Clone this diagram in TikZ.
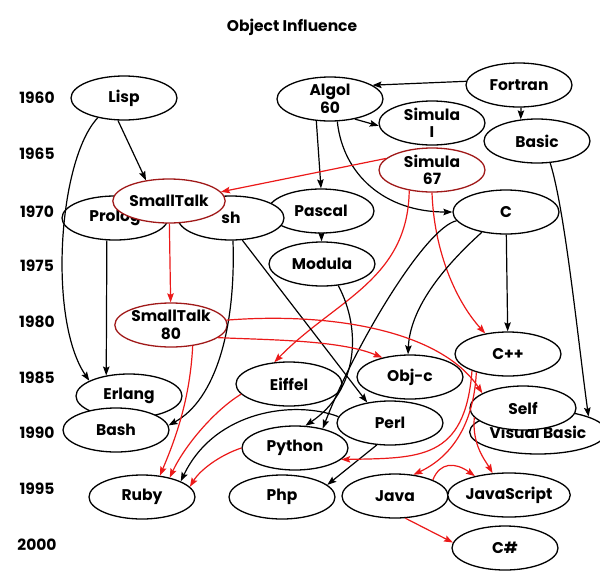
\documentclass[tikz,border=0pt]{standalone}
\usepackage{fontspec}
\setmainfont{Poppins}
\usetikzlibrary{shapes.geometric,arrows.meta}
\definecolor{edgered}{RGB}{235,25,25}
\definecolor{nodered}{RGB}{160,25,25}
\begin{document}
\begin{tikzpicture}[x=1pt,y=-1pt,
  lang/.style={ellipse, draw, line width=1.3pt, fill=white, minimum width=106pt, minimum height=44pt, inner sep=0pt, font=\bfseries\fontsize{15.5}{17.5}\selectfont, align=center},
  redlang/.style={lang, draw=nodered},
  year/.style={font=\bfseries\fontsize{15.5}{17}\selectfont},
  edge/.style={line width=1.2pt, -{Stealth[length=9pt,width=6.5pt,inset=1.5pt]}},
  redge/.style={edge, color=edgered}]
\useasboundingbox (0,0) rectangle (600,581);
\node[font=\bfseries\fontsize{15.5}{17}\selectfont] (title) at (292,27) {Object Influence};
\node[year] (y1960) at (37,98) {1960};
\node[year] (y1965) at (37,154) {1965};
\node[year] (y1970) at (37,212) {1970};
\node[year] (y1975) at (37,266) {1975};
\node[year] (y1980) at (37,322) {1980};
\node[year] (y1985) at (37,378) {1985};
\node[year] (y1990) at (37,433) {1990};
\node[year] (y1995) at (37,489) {1995};
\node[year] (y2000) at (37,545) {2000};
% languages
\node[lang] (lisp) at (124,98) {Lisp};
\node[lang] (algol) at (330,99) {Algol\\60};
\node[lang] (fortran) at (519,85) {Fortran};
\node[lang] (simulaI) at (432,123) {Simula\\I};
\node[lang] (basic) at (537,141) {Basic};
\node[redlang] (simula67) at (432,170) {Simula\\67};
\node[lang] (pascal) at (321,211) {Pascal};
\node[lang] (c) at (506,212) {C};
\node[lang] (prolog) at (115,218) {Prolog};
\node[lang] (sh) at (231,218) {sh};
\node[redlang] (smalltalk) at (169,201) {SmallTalk};
\node[lang] (modula) at (322,264) {Modula};
\node[redlang] (st80) at (171,325) {SmallTalk\\80};
\node[lang] (cpp) at (508,354) {C++};
\node[lang] (objc) at (410,377) {Obj-c};
\node[lang] (eiffel) at (289,384) {Eiffel};
\node[lang] (erlang) at (129,396) {Erlang};
\node[lang] (vb) at (538,432) {Visual Basic};
\node[lang] (self) at (523,408) {Self};
\node[lang] (perl) at (390,423) {Perl};
\node[lang] (bash) at (116,430) {Bash};
\node[lang] (python) at (295,448) {Python};
\node[lang] (ruby) at (142,497) {Ruby};
\node[lang] (php) at (282,497) {Php};
\node[lang] (java) at (395,496) {Java};
\node[lang] (js) at (509,495) {JavaScript};
\node[lang] (csharp) at (505,548) {C\#};
% influences
\draw[edge] (lisp.-105) -- (smalltalk.138);
\draw[edge] (lisp.-143) .. controls (58,160) and (48,320) .. (erlang.159);
\draw[edge] (fortran.176) -- (algol.18);
\draw[edge] (fortran.-85) -- (basic.127);
\draw[edge] (algol.-39) -- (simulaI.-177);
\draw[edge] (algol.-122) -- (pascal.north);
\draw[edge] (algol.-72) .. controls (343,175) and (385,212) .. (c.180);
\draw[redge] (simula67.166) -- (smalltalk.10);
\draw[redge] (simula67.-138) .. controls (408,280) and (335,300) .. (eiffel.124);
\draw[redge] (simula67.-90) .. controls (434,250) and (455,300) .. (cpp.138);
\draw[edge] (pascal) -- (modula);
\draw[edge] (c) -- (cpp);
\draw[edge] (c.-140) .. controls (440,270) and (410,310) .. (objc.95);
\draw[edge] (c.-170) .. controls (425,228) and (355,345) .. (python.35);
\draw[edge] (modula.-53) .. controls (362,330) and (358,390) .. (python.65);
\draw[edge] (sh.-85) .. controls (236,330) and (215,400) .. (bash.5);
\draw[edge] (sh.-63) -- (perl.138);
\draw[edge] (prolog.-110) -- (erlang.138);
\draw[redge] (smalltalk) -- (st80);
\draw[redge] (st80.-44) .. controls (190,400) and (175,440) .. (ruby.50);
\draw[redge] (st80.-15) .. controls (270,340) and (340,340) .. (objc.145);
\draw[redge] (st80.5) .. controls (330,312) and (440,330) .. (self.160);
\draw[redge] (eiffel.-168) .. controls (215,410) and (185,445) .. (ruby.35);
\draw[edge] (perl.173) .. controls (295,400) and (215,410) .. (ruby.22);
\draw[redge] (python.180) .. controls (220,455) and (200,470) .. (ruby.12);
\draw[edge] (perl.-121) -- (php.15);
\draw[redge] (cpp.-150) .. controls (474,420) and (455,455) .. (java.49);
\draw[redge] (cpp.-155) .. controls (465,460) and (420,458) .. (python.-14);
\draw[redge] (self.-169) .. controls (472,445) and (485,460) .. (js.127);
\draw[redge] (java.23) .. controls (440,462) and (455,462) .. (js.151);
\draw[redge] (java.-65) -- (csharp.174);
\draw[edge] (basic.-59) .. controls (565,210) and (578,340) .. (vb.17);
\end{tikzpicture}
\end{document}
